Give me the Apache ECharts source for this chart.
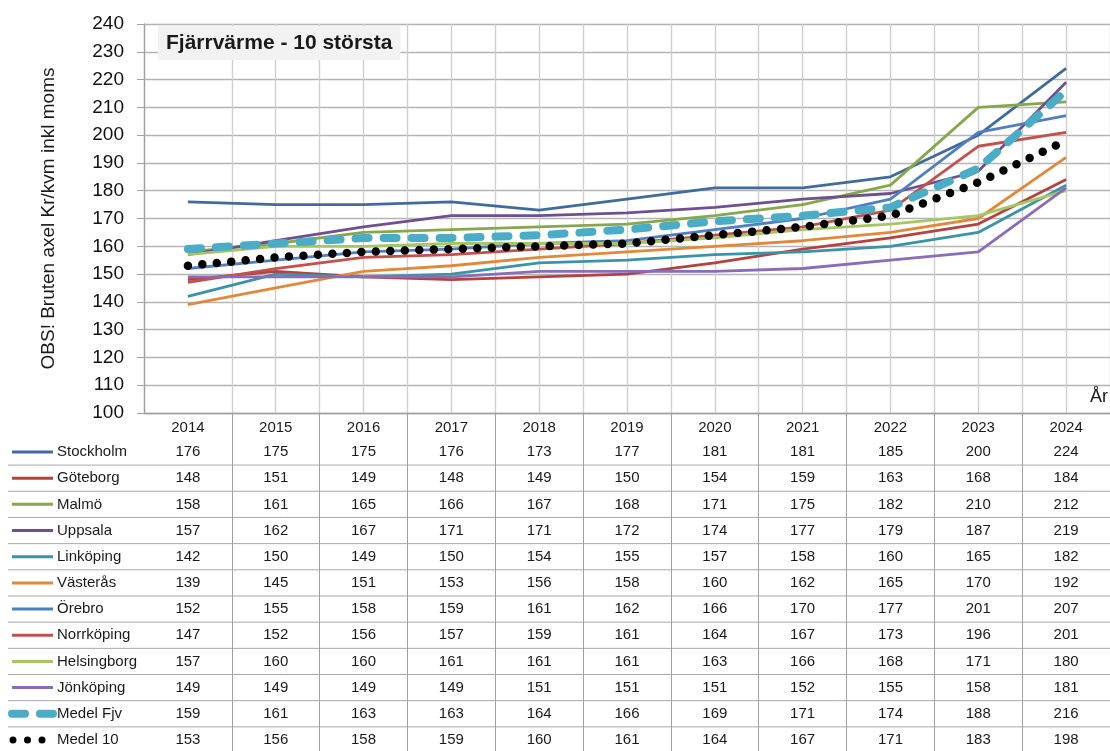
<!DOCTYPE html>
<html>
<head>
<meta charset="utf-8">
<script src="https://cdn.jsdelivr.net/npm/echarts@6/dist/echarts.min.js"></script>
<style>
  html, body { margin: 0; padding: 0; background: #fff; }
  #main { width: 1110px; height: 751px; }
</style>
</head>
<body>
<div id="main"></div>
<script>
// years on the x axis
var years = ['2014', '2015', '2016', '2017', '2018', '2019', '2020', '2021', '2022', '2023', '2024'];

// price per city, kr/kvm incl. moms
var stockholm   = [176, 175, 175, 176, 173, 177, 181, 181, 185, 200, 224];
var goteborg    = [148, 151, 149, 148, 149, 150, 154, 159, 163, 168, 184];
var malmo       = [158, 161, 165, 166, 167, 168, 171, 175, 182, 210, 212];
var uppsala     = [157, 162, 167, 171, 171, 172, 174, 177, 179, 187, 219];
var linkoping   = [142, 150, 149, 150, 154, 155, 157, 158, 160, 165, 182];
var vasteras    = [139, 145, 151, 153, 156, 158, 160, 162, 165, 170, 192];
var orebro      = [152, 155, 158, 159, 161, 162, 166, 170, 177, 201, 207];
var norrkoping  = [147, 152, 156, 157, 159, 161, 164, 167, 173, 196, 201];
var helsingborg = [157, 160, 160, 161, 161, 161, 163, 166, 168, 171, 180];
var jonkoping   = [149, 149, 149, 149, 151, 151, 151, 152, 155, 158, 181];
var medelFjv    = [159, 161, 163, 163, 164, 166, 169, 171, 174, 188, 216];
var medel10     = [153, 156, 158, 159, 160, 161, 164, 167, 171, 183, 198];

var yTicks = [100, 240, 10]; // min, max, step

var FONT = 'Liberation Sans';
var TXT = '#1a1a1a';

var rows = [
  {name: 'Stockholm',   data: stockholm,   color: '#3f6b9e'},
  {name: 'Göteborg',    data: goteborg,    color: '#b3433f'},
  {name: 'Malmö',       data: malmo,       color: '#86a84a'},
  {name: 'Uppsala',     data: uppsala,     color: '#6e4f8f'},
  {name: 'Linköping',   data: linkoping,   color: '#3a93a8'},
  {name: 'Västerås',    data: vasteras,    color: '#e0893b'},
  {name: 'Örebro',      data: orebro,      color: '#4f7fc2'},
  {name: 'Norrköping',  data: norrkoping,  color: '#c4504c'},
  {name: 'Helsingborg', data: helsingborg, color: '#a5c662'},
  {name: 'Jönköping',   data: jonkoping,   color: '#8a6cb8'},
  {name: 'Medel Fjv',   data: medelFjv,    color: '#4bacc6', dash: [13, 15], width: 8},
  {name: 'Medel 10',    data: medel10,     color: '#000000', dash: [0, 14.5], width: 8.5}
];

var series = rows.map(function (r) {
  return {
    name: r.name,
    type: 'line',
    data: r.data,
    symbol: 'none',
    silent: true,
    color: r.color,
    lineStyle: {
      color: r.color,
      width: r.width || 2.8,
      type: r.dash || 'solid',
      cap: r.dash ? 'round' : 'butt'
    }
  };
});

// half-slot categories used only to place the vertical grid lines
var halfSlots = [];
years.forEach(function (y) { halfSlots.push(y + 'a', y + 'b'); });

var ROW0 = 452, PITCH = 26.18;

var myChart = echarts.init(document.getElementById('main'));
myChart.setOption({
  animation: false,
  backgroundColor: '#fff',
  textStyle: {fontFamily: FONT},
  title: {
    text: 'Fjärrvärme - 10 största',
    left: 158, top: 26,
    padding: [7, 8, 6, 8],
    backgroundColor: '#f2f2f2',
    textStyle: {fontFamily: FONT, fontSize: 21, fontWeight: 'bold', color: TXT}
  },
  grid: {left: 144, top: 24, width: 968, height: 389},
  xAxis: [{
    type: 'category',
    data: years,
    boundaryGap: true,
    axisLine: {show: true, lineStyle: {color: '#a0a0a0', width: 1.3}},
    axisTick: {
      show: true, inside: false, length: 338,
      interval: function (idx) { return idx > 0; },
      lineStyle: {color: '#a0a0a0', width: 1}
    },
    axisLabel: {fontFamily: FONT, fontSize: 15, color: TXT, margin: 7, interval: 0},
    splitLine: {show: false}
  }, {
    type: 'category',
    data: halfSlots,
    boundaryGap: true,
    position: 'bottom',
    axisLine: {show: false},
    axisTick: {show: false},
    axisLabel: {show: false},
    splitLine: {
      show: true,
      interval: function (idx) { return idx !== 1; },
      lineStyle: {color: '#cfcfcf', width: 1.4}
    }
  }],
  yAxis: {
    type: 'value',
    min: yTicks[0], max: yTicks[1], interval: yTicks[2],
    name: 'OBS! Bruten axel Kr/kvm inkl moms',
    nameLocation: 'middle',
    nameGap: 86,
    nameTextStyle: {fontFamily: FONT, fontSize: 19, color: TXT},
    axisLine: {show: true, lineStyle: {color: '#a0a0a0', width: 1.3}},
    axisTick: {show: true, length: 7, lineStyle: {color: '#a0a0a0'}},
    axisLabel: {fontFamily: FONT, fontSize: 19, color: '#111', margin: 20},
    splitLine: {show: true, lineStyle: {color: '#b4b4b4', width: 1.4}}
  },
  series: series
});

// data table under the plot, columns follow the x axis
var graphics = [{
  type: 'text', right: 2, top: 388,
  style: {text: 'År', fontFamily: FONT, fontSize: 18, fill: TXT}
}];
rows.forEach(function (r, k) {
  var cy = ROW0 + k * PITCH;
  // legend key + row label
  var isDots = r.name === 'Medel 10';
  graphics.push({
    type: 'line', silent: true,
    shape: {x1: isDots ? 13 : 12, y1: cy, x2: isDots ? 43 : 53, y2: cy},
    style: {
      stroke: r.color,
      lineWidth: r.width ? (isDots ? 7 : 8) : 3,
      lineDash: r.dash ? (isDots ? [0, 14.5] : [13, 15]) : null,
      lineCap: r.dash ? 'round' : 'butt'
    }
  });
  graphics.push({
    type: 'text', x: 57, y: cy,
    style: {text: r.name, fontFamily: FONT, fontSize: 15, fill: TXT, verticalAlign: 'middle'}
  });
  r.data.forEach(function (v, i) {
    var cx = myChart.convertToPixel({xAxisIndex: 0}, i);
    graphics.push({
      type: 'text', x: cx, y: cy,
      style: {text: String(v), fontFamily: FONT, fontSize: 15, fill: TXT, align: 'center', verticalAlign: 'middle'}
    });
  });
  if (k > 0) {
    graphics.push({
      type: 'line', silent: true,
      shape: {x1: 8, y1: cy - PITCH / 2, x2: 1110, y2: cy - PITCH / 2},
      style: {stroke: '#a8a8a8', lineWidth: 1}
    });
  }
});
myChart.setOption({graphic: graphics});
</script>
</body>
</html>
